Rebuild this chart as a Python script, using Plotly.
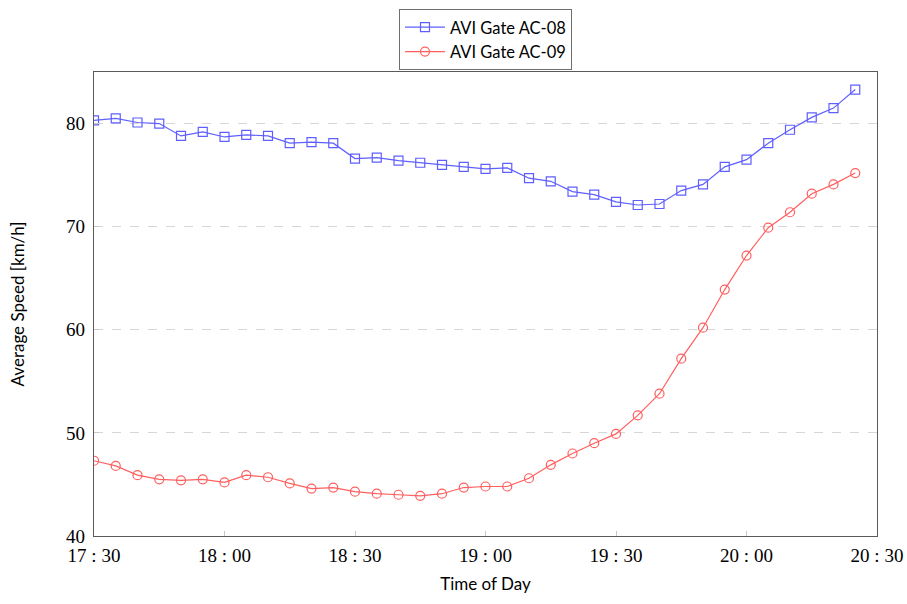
import plotly.graph_objects as go

times = ["17:30", "17:35", "17:40", "17:45", "17:50", "17:55",
         "18:00", "18:05", "18:10", "18:15", "18:20", "18:25",
         "18:30", "18:35", "18:40", "18:45", "18:50", "18:55",
         "19:00", "19:05", "19:10", "19:15", "19:20", "19:25",
         "19:30", "19:35", "19:40", "19:45", "19:50", "19:55",
         "20:00", "20:05", "20:10", "20:15", "20:20", "20:25"]

ac08 = [80.3, 80.5, 80.1, 80.0, 78.8, 79.2,
        78.7, 78.9, 78.8, 78.1, 78.2, 78.1,
        76.6, 76.7, 76.4, 76.2, 76.0, 75.8,
        75.6, 75.7, 74.7, 74.4, 73.4, 73.1,
        72.4, 72.1, 72.2, 73.5, 74.1, 75.8,
        76.5, 78.1, 79.4, 80.6, 81.5, 83.3]

ac09 = [47.3, 46.8, 45.9, 45.5, 45.4, 45.5,
        45.2, 45.9, 45.7, 45.1, 44.6, 44.7,
        44.3, 44.1, 44.0, 43.9, 44.1, 44.7,
        44.8, 44.8, 45.6, 46.9, 48.0, 49.0,
        49.9, 51.7, 53.8, 57.2, 60.2, 63.9,
        67.2, 69.9, 71.4, 73.2, 74.1, 75.2]

tick_times = ["17:30", "18:00", "18:30", "19:00", "19:30", "20:00", "20:30"]
tick_labels = ["17 : 30", "18 : 00", "18 : 30", "19 : 00", "19 : 30", "20 : 00", "20 : 30"]
y_ticks = [40, 50, 60, 70, 80]


def to_min(t):
    h, m = t.split(":")
    return int(h) * 60 + int(m)


x = [to_min(t) for t in times]
tick_vals = [to_min(t) for t in tick_times]

fig = go.Figure()
fig.add_trace(go.Scatter(
    x=x, y=ac08, name="AVI Gate AC-08", mode="lines+markers",
    line=dict(color="rgb(95,95,255)", width=1.2),
    marker=dict(symbol="square-open", size=9, color="rgb(95,95,255)",
                line=dict(width=1.2)),
))
fig.add_trace(go.Scatter(
    x=x, y=ac09, name="AVI Gate AC-09", mode="lines+markers",
    line=dict(color="rgb(255,95,95)", width=1.2),
    marker=dict(symbol="circle-open", size=9, color="rgb(255,95,95)",
                line=dict(width=1.2)),
))

fig.update_layout(
    width=907, height=604,
    margin=dict(l=94, r=30, t=72, b=68, autoexpand=False),
    paper_bgcolor="white", plot_bgcolor="white",
    font=dict(family="Lato, Open Sans, sans-serif", size=17, color="black"),
    showlegend=True,
    legend=dict(
        x=0.5, xanchor="center", y=1.136, yanchor="top",
        bordercolor="rgb(110,110,110)", borderwidth=1,
        font=dict(size=16.5), bgcolor="white",
        tracegroupgap=0, itemwidth=40,
    ),
)

fig.update_xaxes(
    range=[to_min("17:30"), to_min("20:30")],
    tickvals=tick_vals, ticktext=tick_labels,
    tickfont=dict(family="Liberation Serif, DejaVu Serif, serif", size=19),
    showgrid=False, zeroline=False, automargin=False,
    showline=True, linecolor="rgb(90,90,90)", linewidth=1.2, mirror=True,
    ticks="inside", ticklen=5, tickcolor="rgb(200,200,200)",
    ticklabelstandoff=2, ticklabeloverflow="allow",
    title=dict(text="Time of Day", font=dict(size=17), standoff=13),
)
fig.update_yaxes(
    range=[40, 85],
    tickvals=y_ticks,
    tickfont=dict(family="Liberation Serif, DejaVu Serif, serif", size=19),
    showgrid=True, gridcolor="rgb(215,215,215)", griddash="dash", gridwidth=1,
    zeroline=False, automargin=False,
    showline=True, linecolor="rgb(90,90,90)", linewidth=1.2, mirror=True,
    ticks="inside", ticklen=5, tickcolor="rgb(200,200,200)",
    ticklabelstandoff=4,
    title=dict(text="Average Speed [km/h]", font=dict(size=17), standoff=37),
)

fig.write_html(
    "out.html",
    config={"displayModeBar": False},
    post_script="document.body.style.margin='0px';document.body.style.overflow='hidden';",
)
